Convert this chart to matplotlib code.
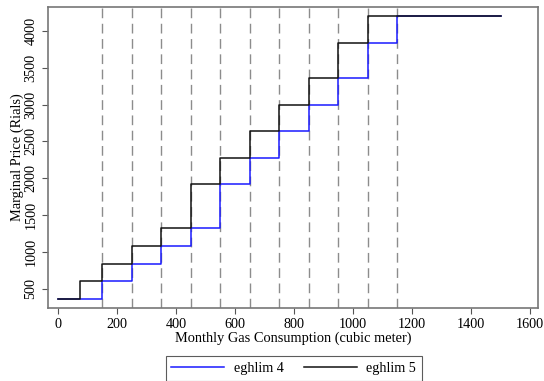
import numpy as np
import matplotlib
matplotlib.use("Agg")
import matplotlib.pyplot as plt

# Step thresholds (cubic meter) and marginal prices (Rials)
EDGES_4 = [0, 150, 250, 350, 450, 550, 650, 750, 850, 950, 1050, 1150, 1500]
EDGES_5 = [0, 75, 150, 250, 350, 450, 550, 650, 750, 850, 950, 1050, 1500]
PRICES = [364, 604, 839, 1079, 1324, 1924, 2277, 2639, 3000, 3358, 3841, 4204]
VLINES = [150, 250, 350, 450, 550, 650, 750, 850, 950, 1050, 1150]

plt.rcParams["font.family"] = ["Liberation Serif", "DejaVu Serif"]

fig = plt.figure(figsize=(5.44, 3.81), dpi=100)
ax = fig.add_axes([0.088, 0.192, 0.901, 0.790])

for xv in VLINES:
    ax.axvline(xv, color="#8c8c8c", lw=1.0, ls=(0, (7, 4)), zorder=1)

def steps(edges, prices):
    x = np.array(edges, dtype=float)
    y = np.append(prices, prices[-1])
    return x, y

x4, y4 = steps(EDGES_4, PRICES)
x5, y5 = steps(EDGES_5, PRICES)
ax.step(x4, y4, where="post", color="#1a1aff", lw=1.1, label="eghlim 4", zorder=3)
ax.step(x5, y5, where="post", color="#111111", lw=1.1, label="eghlim 5", zorder=4)

ax.set_xlim(-34, 1627)
ax.set_ylim(242, 4326)
ax.set_xticks(np.arange(0, 1601, 200))
ax.set_yticks(np.arange(500, 4001, 500))
for lab in ax.get_yticklabels():
    lab.set_rotation(90)
    lab.set_va("center")
ax.tick_params(labelsize=10.2, length=4.5, color="#555555", pad=2.5)
ax.tick_params(axis="y", pad=3)
for s in ax.spines.values():
    s.set_color("#777777")
    s.set_linewidth(1.2)

ax.set_xlabel("Monthly Gas Consumption (cubic meter)", fontsize=10.4, labelpad=0.5)
ax.set_ylabel("Marginal Price (Rials)", fontsize=10.4, labelpad=0)

leg = fig.legend(loc="center", bbox_to_anchor=(0.54, 0.033), ncol=2, fontsize=10.2,
                 frameon=True, fancybox=False, handlelength=3.7, handletextpad=0.7,
                 columnspacing=1.45, borderpad=0.4)
leg.get_frame().set_edgecolor("#333333")
leg.get_frame().set_linewidth(0.8)

fig.savefig("out.png", dpi=100)
